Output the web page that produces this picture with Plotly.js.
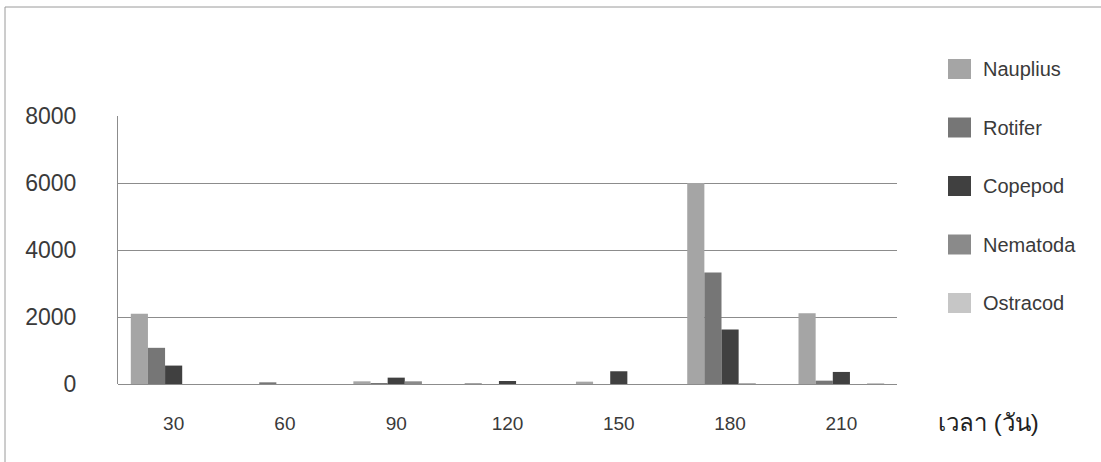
<!DOCTYPE html>
<html>
<head>
<meta charset="utf-8">
<script src="https://cdn.plot.ly/plotly-3.0.1.min.js"></script>
<style>html,body{margin:0;padding:0;background:#fff;}#chart{width:1101px;height:462px;}</style>
</head>
<body>
<div id="chart"></div>
<script>
const categories = ["30", "60", "90", "120", "150", "180", "210"];
const seriesNames = ["Nauplius", "Rotifer", "Copepod", "Nematoda", "Ostracod"];
const nauplius = [2100, 0, 80, 30, 70, 6000, 2110];
const rotifer  = [1080, 50, 30, 0, 0, 3330, 100];
const copepod  = [550, 0, 190, 90, 380, 1630, 360];
const nematoda = [0, 0, 80, 0, 0, 20, 0];
const ostracod = [0, 0, 0, 0, 0, 0, 30];
const yTicks = [0, 2000, 4000, 6000, 8000];
const xTitle = "เวลา (วัน)";

const seriesValues = [nauplius, rotifer, copepod, nematoda, ostracod];
const colors = ["#a5a5a5", "#767676", "#404040", "#8a8a8a", "#c6c6c6"];

const FONT = "Liberation Sans, Arial, DejaVu Sans, sans-serif";

// plot-area geometry (pixels) used to place the custom legend
const W = 1101, H = 462;
const M = {l: 118, r: 204, t: 116, b: 78};
const PW = W - M.l - M.r, PH = H - M.t - M.b;
const px2x = p => (p - M.l) / PW;
const py2y = p => (H - M.b - p) / PH;

const traces = seriesNames.map((name, i) => ({
  type: "bar",
  name: name,
  x: categories,
  y: seriesValues[i],
  marker: {color: colors[i]},
  showlegend: false,
  hoverinfo: "x+y+name"
}));

const legendTop = 69, legendStep = 58.5;
const shapes = [{
  type: "rect",
  xref: "paper", yref: "paper",
  x0: px2x(5), x1: px2x(1110),
  y0: py2y(480), y1: py2y(7),
  line: {color: "#9a9a9a", width: 1},
  layer: "below"
}];
const annotations = [{
  text: xTitle,
  xref: "paper", yref: "paper",
  x: px2x(936), y: py2y(422),
  xanchor: "left", yanchor: "middle",
  showarrow: false,
  font: {size: 24, color: "#222222", family: FONT}
}];
seriesNames.forEach((name, i) => {
  const cy = legendTop + i * legendStep;
  shapes.push({
    type: "rect", xref: "paper", yref: "paper",
    x0: px2x(948), x1: px2x(971), y0: py2y(cy + 10), y1: py2y(cy - 10),
    fillcolor: colors[i], line: {width: 0}
  });
  annotations.push({
    text: name, xref: "paper", yref: "paper",
    x: px2x(981), y: py2y(cy),
    xanchor: "left", yanchor: "middle", showarrow: false,
    font: {size: 20, color: "#3a3a3a", family: FONT}
  });
});

const layout = {
  width: W,
  height: H,
  margin: M,
  paper_bgcolor: "#ffffff",
  plot_bgcolor: "#ffffff",
  barmode: "group",
  bargap: 0.23,
  bargroupgap: 0,
  showlegend: false,
  font: {family: FONT, color: "#333333", size: 17},
  xaxis: {
    type: "category",
    showgrid: false,
    zeroline: false,
    showline: false,
    ticks: "",
    ticklabelstandoff: 26,
    tickfont: {size: 19, color: "#3a3a3a"}
  },
  yaxis: {
    range: [0, 8000],
    tickvals: yTicks,
    ticktext: yTicks.map(String),
    showgrid: true,
    gridcolor: "#8c8c8c",
    gridwidth: 1,
    zeroline: true,
    zerolinecolor: "#8c8c8c",
    zerolinewidth: 1,
    showline: true,
    linecolor: "#8c8c8c",
    linewidth: 1,
    ticks: "",
    ticklabelstandoff: 36,
    tickfont: {size: 23, color: "#3a3a3a"}
  },
  annotations: annotations,
  shapes: shapes
};

Plotly.newPlot("chart", traces, layout, {displayModeBar: false, staticPlot: true});
</script>
</body>
</html>
